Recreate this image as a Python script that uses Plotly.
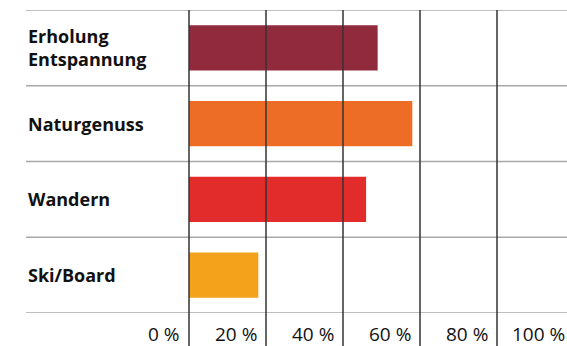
import plotly.graph_objects as go

# ---- data ----
categories = ["Erholung<br>Entspannung", "Naturgenuss", "Wandern", "Ski/Board"]
values = [49, 58, 46, 18]
bar_colors = ["#922a3d", "#ed6d27", "#e22c2c", "#f4a11b"]
tick_values = [0, 20, 40, 60, 80, 100]
tick_labels = ["0 %", "20 %", "40 %", "60 %", "80 %", "100 %"]

# ---- layout geometry ----
W, H = 567, 346
ml, mr, mt, mb = 26, 0, 10, 33
plot_w = W - ml - mr
plot_h = H - mt - mb
zero_px = 189 - ml
px_per_unit = 3.85
x_lo = -zero_px / px_per_unit
x_hi = x_lo + plot_w / px_per_unit

n = len(categories)
ypos = list(range(n))

fig = go.Figure(
    go.Bar(
        x=values,
        y=ypos,
        orientation="h",
        width=0.6,
        marker=dict(color=bar_colors, line=dict(width=0)),
        hoverinfo="skip",
    )
)

shapes = []
# horizontal separators
for k in range(n + 1):
    shapes.append(dict(type="line", xref="paper", x0=0, x1=1, yref="y",
                       y0=k - 0.5, y1=k - 0.5, layer="below",
                       line=dict(color="#a8a8a8", width=1.5)))
# vertical grid lines (drawn over bars)
for v in tick_values:
    shapes.append(dict(type="line", xref="x", x0=v, x1=v, yref="paper",
                       y0=-mb / plot_h - 0.01, y1=1, layer="above",
                       line=dict(color="#333333", width=1.5)))

annotations = []
for i, c in enumerate(categories):
    annotations.append(dict(x=0, xref="paper", xanchor="left", y=i, yref="y",
                            yanchor="middle", text=c, align="left", showarrow=False,
                            font=dict(family="Open Sans", size=18, color="#111111", weight=700)))
for v, t in zip(tick_values, tick_labels):
    annotations.append(dict(x=(v - x_lo) / (x_hi - x_lo), xref="paper", xanchor="right",
                            xshift=-7, y=-21 / plot_h, yref="paper", yanchor="middle",
                            text=t, showarrow=False,
                            font=dict(family="Open Sans", size=19, color="#111111")))

fig.update_layout(
    width=W, height=H,
    margin=dict(l=ml, r=mr, t=mt, b=mb, pad=0),
    paper_bgcolor="white", plot_bgcolor="white",
    showlegend=False,
    xaxis=dict(range=[x_lo, x_hi], visible=False, fixedrange=True),
    yaxis=dict(range=[n - 0.5, -0.5], visible=False, fixedrange=True),
    shapes=shapes,
    annotations=annotations,
)

fig.write_html("out.html")
